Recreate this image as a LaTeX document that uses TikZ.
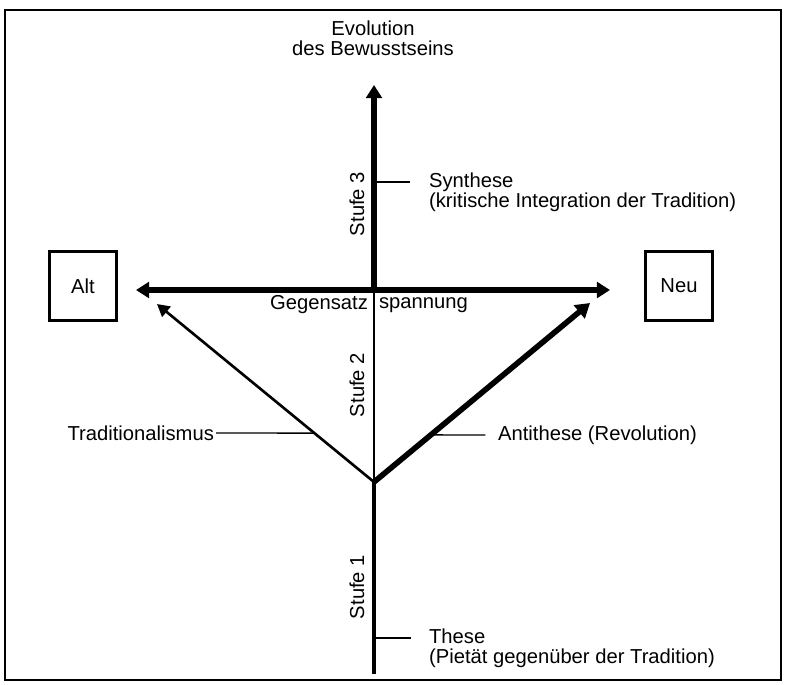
\documentclass[tikz,border=0pt]{standalone}
\usepackage{fontspec}
\setmainfont{Liberation Sans}
\usetikzlibrary{arrows.meta,calc}

\begin{document}
\begin{tikzpicture}[x=0.02cm,y=-0.02cm,
  lbl/.style={font=\fontsize{11.5}{11.5}\selectfont,inner sep=1pt,align=left},
  stufe/.style={lbl,rotate=90},
  pole/.style={lbl,draw,line width=1.9pt,minimum width=1.34cm,minimum height=1.38cm},
  tick/.style={line width=0.8pt},
  bigtip/.style={line width=3pt},
  bighead/.tip={Triangle[length=7.5pt,width=9pt]}]
\useasboundingbox (0,0) rectangle (786,684);
\draw[line width=0.8pt] (5,10) rectangle (781,680);

% Achsen
\coordinate (top) at (374,85);
\coordinate (cross) at (374,290);
\coordinate (vertex) at (374,482);
\coordinate (bottom) at (374,674);
\coordinate (leftend) at (136,290);
\coordinate (rightend) at (610,290);
\coordinate (altend) at (157,304);
\coordinate (neuend) at (590,303);

\node[pole] (alt) at (83,286) {Alt};
\node[pole] (neu) at (679,286) {Neu};

\draw[line width=1.2pt] (cross) -- (vertex);
\draw[line width=2.1pt] (vertex) -- (bottom);
\draw[bigtip,-bighead] (cross) -- (top);
\draw[bigtip,bighead-bighead] (leftend) -- (rightend);
\draw[line width=1.5pt,-{Triangle[length=7pt,width=7.5pt]}] (vertex) -- (altend);
\draw[line width=3.2pt,-{Triangle[length=8pt,width=9.5pt]}] (vertex) -- (neuend);

\node[lbl,align=center] (title) at (373,38) {Evolution\\des Bewusstseins};
\node[lbl,anchor=east] (gegen) at (370,305) {Gegensatz};
\node[lbl,anchor=west] (spann) at (377,305) {spannung};

\node[stufe] (s3) at (357,204) {Stufe 3};
\node[stufe] (s2) at (357,385) {Stufe 2};
\node[stufe] (s1) at (357,587) {Stufe 1};

% Stufen-Beschriftungen
\coordinate (synhit) at (374,182);
\coordinate (thehit) at (374,638);
\draw[tick] (synhit) -- ++(36,0);
\draw[tick] (thehit) -- ++(37,0);
\node[lbl,anchor=west] (synth) at (427,192) {Synthese\\(kritische Integration der Tradition)};
\node[lbl,anchor=west] (these) at (427,648) {These\\(Pietät gegenüber der Tradition)};

\coordinate (tradhit) at ($(vertex)!0.275!(altend)$);
\coordinate (antihit) at ($(vertex)!0.263!(neuend)$);
\node[lbl,anchor=east] (trad) at (216,433) {Traditionalismus};
\node[lbl,anchor=west] (anti) at (496,435) {Antithese (Revolution)};
\draw[tick] (trad.east) -- (tradhit);
\draw[tick,shorten >=6pt] (antihit) -- (anti.west);
\end{tikzpicture}
\end{document}
